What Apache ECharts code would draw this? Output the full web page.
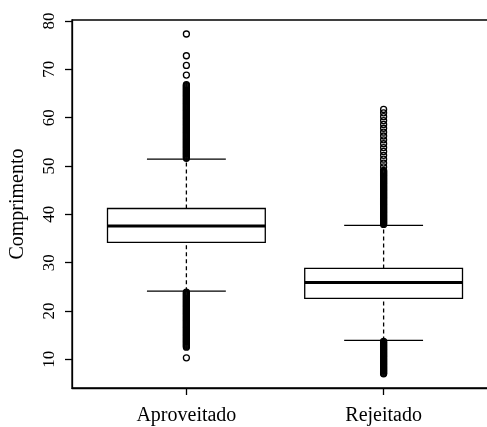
<!DOCTYPE html>
<html>
<head>
<meta charset="utf-8">
<script src="https://cdn.jsdelivr.net/npm/echarts@6/dist/echarts.min.js"></script>
<style>
html,body{margin:0;padding:0;background:#fff;}
#chart{width:487px;height:427px;}
</style>
</head>
<body>
<div id="chart"></div>
<script>
// ---- data ----
var categories = ['Aproveitado', 'Rejeitado'];
var whiskerLow  = [24.1, 13.9];
var q1          = [34.2, 22.6];
var median      = [37.6, 25.9];
var q3          = [41.2, 28.8];
var whiskerHigh = [51.4, 37.7];

var outliersAproveitado = [
  51.6, 51.8, 52.0, 52.2, 52.4, 52.6, 52.8, 53.0, 53.2, 53.4, 53.6, 53.8, 54.0, 54.2,
  54.4, 54.6, 54.8, 55.0, 55.2, 55.4, 55.6, 55.8, 56.0, 56.2, 56.4, 56.6, 56.8, 57.0,
  57.2, 57.4, 57.6, 57.8, 58.0, 58.2, 58.4, 58.6, 58.8, 59.0, 59.2, 59.4, 59.6, 59.8,
  60.0, 60.2, 60.4, 60.6, 60.8, 61.0, 61.2, 61.4, 61.6, 61.8, 62.0, 62.2, 62.4, 62.6,
  62.8, 63.0, 63.2, 63.4, 63.6, 63.8, 64.0, 64.2, 64.4, 64.6, 64.8, 65.0, 65.2, 65.4,
  65.6, 65.8, 66.0, 66.2, 66.4, 66.6, 66.8, 68.8, 70.8, 72.8, 77.3,
  23.9, 23.7, 23.5, 23.3, 23.1, 22.9, 22.7, 22.5, 22.3, 22.1, 21.9, 21.7, 21.5, 21.3,
  21.1, 20.9, 20.7, 20.5, 20.3, 20.1, 19.9, 19.7, 19.5, 19.3, 19.1, 18.9, 18.7, 18.5,
  18.3, 18.1, 17.9, 17.7, 17.5, 17.3, 17.1, 16.9, 16.7, 16.5, 16.3, 16.1, 15.9, 15.7,
  15.5, 15.3, 15.1, 14.9, 14.7, 14.5, 14.3, 14.1, 13.9, 13.7, 13.5, 13.3, 13.1, 12.9,
  12.7, 12.5, 10.3
];
var outliersRejeitado = [
  37.9, 38.1, 38.3, 38.5, 38.7, 38.9, 39.1, 39.3, 39.5, 39.7, 39.9, 40.1, 40.3, 40.5,
  40.7, 40.9, 41.1, 41.3, 41.5, 41.7, 41.9, 42.1, 42.3, 42.5, 42.7, 42.9, 43.1, 43.3,
  43.5, 43.7, 43.9, 44.1, 44.3, 44.5, 44.7, 44.9, 45.1, 45.3, 45.5, 45.7, 45.9, 46.1,
  46.3, 46.5, 46.7, 46.9, 47.1, 47.3, 47.5, 47.7, 47.9, 48.1, 48.3, 48.5, 48.7, 48.9, 49.1,
  49.8, 50.6, 51.4, 52.2, 53.0, 53.8, 54.6, 55.4, 56.2, 57.0, 57.8, 58.6, 59.4, 60.2, 61.0, 61.7,
  13.7, 13.5, 13.3, 13.1, 12.9, 12.7, 12.5, 12.3, 12.1, 11.9, 11.7, 11.5, 11.3, 11.1,
  10.9, 10.7, 10.5, 10.3, 10.1, 9.9, 9.7, 9.5, 9.3, 9.1, 8.9, 8.7, 8.5, 8.3, 8.1,
  7.9, 7.7, 7.5, 7.3, 7.1, 7.0
];
var yTicks = [10, 20, 30, 40, 50, 60, 70, 80];
var yTitle = 'Comprimento';

// ---- build ----
var boxData = categories.map(function (c, i) {
  return [i + 1, whiskerLow[i], q1[i], median[i], q3[i], whiskerHigh[i]];
});
var outlierData = [];
outliersAproveitado.forEach(function (v) { outlierData.push([1, v]); });
outliersRejeitado.forEach(function (v) { outlierData.push([2, v]); });

var serif = 'Liberation Serif';

function renderBox(params, api) {
  var x = api.value(0);
  var lo = api.coord([x, api.value(1)]);
  var b1 = api.coord([x, api.value(2)]);
  var md = api.coord([x, api.value(3)]);
  var b3 = api.coord([x, api.value(4)]);
  var hi = api.coord([x, api.value(5)]);
  var half = api.size([0.4, 0])[0];
  var capHalf = api.size([0.2, 0])[0];
  var cx = lo[0];
  var line = { stroke: '#000', lineWidth: 1.3 };
  var dash = { stroke: '#000', lineWidth: 1.3, lineDash: [4, 3] };
  return {
    type: 'group',
    children: [
      { type: 'line', shape: { x1: cx, y1: lo[1], x2: cx, y2: b1[1] }, style: dash },
      { type: 'line', shape: { x1: cx, y1: b3[1], x2: cx, y2: hi[1] }, style: dash },
      { type: 'line', shape: { x1: cx - capHalf, y1: lo[1], x2: cx + capHalf, y2: lo[1] }, style: line },
      { type: 'line', shape: { x1: cx - capHalf, y1: hi[1], x2: cx + capHalf, y2: hi[1] }, style: line },
      { type: 'rect', shape: { x: cx - half, y: b3[1], width: 2 * half, height: b1[1] - b3[1] },
        style: { fill: '#fff', stroke: '#000', lineWidth: 1.3 } },
      { type: 'line', shape: { x1: cx - half, y1: md[1], x2: cx + half, y2: md[1] },
        style: { stroke: '#000', lineWidth: 3 } }
    ]
  };
}

var chart = echarts.init(document.getElementById('chart'), null, { renderer: 'canvas' });
chart.setOption({
  backgroundColor: '#fff',
  animation: false,
  grid: { left: 72, top: 20, width: 426, height: 368, outerBoundsMode: 'none', containLabel: false,
          show: true, borderColor: '#000', borderWidth: 1.3, backgroundColor: 'transparent' },
  xAxis: {
    type: 'value', min: 0.42, max: 2.58,
    splitLine: { show: false },
    axisLine: { show: true, lineStyle: { color: '#000', width: 1.3 } },
    axisTick: { show: true, customValues: [1, 2], length: 7, lineStyle: { color: '#000', width: 1.3 } },
    axisLabel: {
      customValues: [1, 2], margin: 18, color: '#000', fontFamily: serif, fontSize: 20,
      formatter: function (v) { return categories[Math.round(v) - 1]; }
    }
  },
  yAxis: {
    type: 'value', min: 4.06, max: 80.2,
    name: yTitle, nameLocation: 'middle', nameGap: 44, nameRotate: 90,
    nameTextStyle: { color: '#000', fontFamily: serif, fontSize: 20 },
    splitLine: { show: false },
    axisLine: { show: true, lineStyle: { color: '#000', width: 1.3 } },
    axisTick: { show: true, customValues: yTicks, length: 7, lineStyle: { color: '#000', width: 1.3 } },
    axisLabel: { customValues: yTicks, rotate: 90, margin: 14, color: '#000', fontFamily: serif, fontSize: 17 }
  },
  series: [
    {
      type: 'custom', renderItem: renderBox, data: boxData,
      encode: { x: 0, y: [1, 2, 3, 4, 5] }, z: 2
    },
    {
      type: 'scatter', data: outlierData, symbol: 'circle', symbolSize: 6, z: 3,
      itemStyle: { color: 'rgba(0,0,0,0)', borderColor: '#000', borderWidth: 1.3, opacity: 1 }
    }
  ]
});
</script>
</body>
</html>
